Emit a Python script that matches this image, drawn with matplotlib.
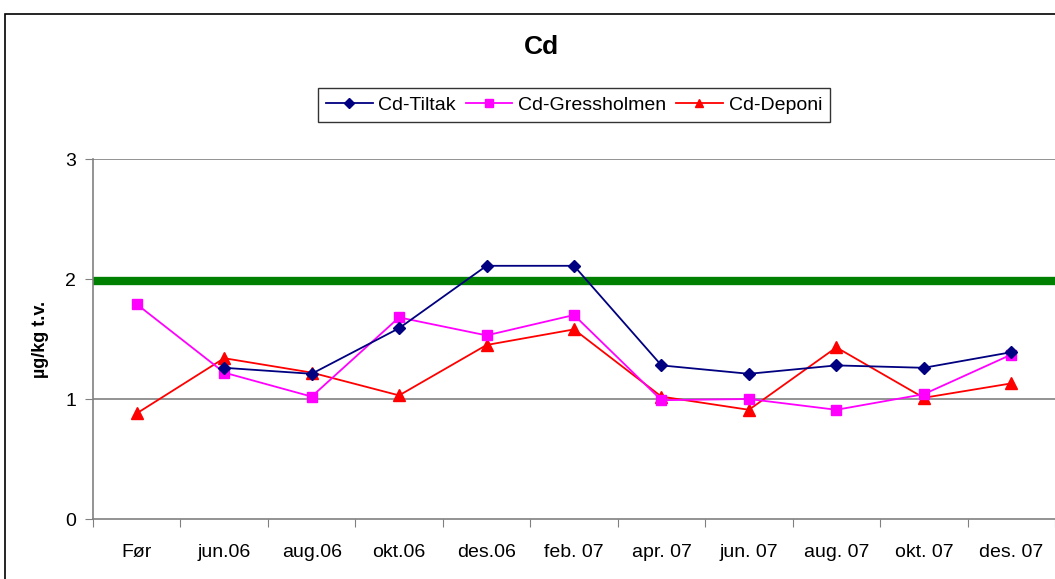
import matplotlib.pyplot as plt
from matplotlib.patches import Rectangle

plt.rcParams['font.family'] = ['Liberation Sans', 'DejaVu Sans']

kategorier = ['Før', 'jun.06', 'aug.06', 'okt.06', 'des.06', 'feb. 07',
              'apr. 07', 'jun. 07', 'aug. 07', 'okt. 07', 'des. 07']

# Cd-Tiltak mangler verdi for "Før"
tiltak = [None, 1.26, 1.21, 1.59, 2.11, 2.11, 1.28, 1.21, 1.28, 1.26, 1.39]
gressholmen = [1.79, 1.22, 1.02, 1.68, 1.53, 1.70, 0.99, 1.00, 0.91, 1.04, 1.37]
deponi = [0.88, 1.34, 1.22, 1.03, 1.45, 1.58, 1.02, 0.91, 1.43, 1.01, 1.13]
grense = 1.98

W, H = 1055, 579
fig = plt.figure(figsize=(W / 100, H / 100), dpi=100)
ax = fig.add_axes([93 / W, 1 - 519 / H, 962 / W, 360 / H])

# ramme rundt hele diagrammet
fig.patches.append(Rectangle((5 / W, -0.1), 2, 1.1 - 14 / H, transform=fig.transFigure,
                             fill=False, edgecolor='black', linewidth=1.2))

x = list(range(len(kategorier)))
xt = [i for i, v in zip(x, tiltak) if v is not None]
yt = [v for v in tiltak if v is not None]

for yv in [1, 2, 3]:
    ax.axhline(yv, color='#808080', linewidth=1.2, zorder=1)
ax.plot([-0.5, 10.45], [grense, grense], color='#008000', linewidth=6, zorder=2)

ax.plot(xt, yt, color='#000080', marker='D', markersize=6, linewidth=1.3,
        label='Cd-Tiltak', zorder=5)
ax.plot(x, gressholmen, color='#FF00FF', marker='s', markersize=7, linewidth=1.3,
        label='Cd-Gressholmen', zorder=4)
ax.plot(x, deponi, color='#FF0000', marker='^', markersize=8, linewidth=1.3,
        label='Cd-Deponi', zorder=3)

ax.set_xlim(-0.5, 10.5)
ax.set_ylim(0, 3)
ax.set_yticks([0, 1, 2, 3])
ax.tick_params(axis='y', direction='out', length=6, labelsize=14, pad=6, color='#808080')

ax.set_xticks([i - 0.5 for i in range(12)])
ax.set_xticklabels([])
ax.tick_params(axis='x', which='major', direction='out', length=6, color='#808080')
ax.set_xticks(x, minor=True)
ax.set_xticklabels(kategorier, minor=True, fontsize=14)
ax.tick_params(axis='x', which='minor', length=0, pad=18)

for s in ['top', 'right']:
    ax.spines[s].set_visible(False)
ax.spines['left'].set_color('#808080')
ax.spines['bottom'].set_color('#808080')
ax.spines['left'].set_linewidth(1.2)
ax.spines['bottom'].set_linewidth(1.2)

ax.set_ylabel('µg/kg t.v.', fontsize=13, fontweight='bold', labelpad=12)
fig.text(541 / W, 1 - 47 / H, 'Cd', fontsize=19, fontweight='bold', ha='center', va='center')

leg = fig.legend(loc='center', bbox_to_anchor=(574 / W, 1 - 105 / H), ncol=3,
                 fontsize=14, frameon=True, fancybox=False, handlelength=2.4,
                 handletextpad=0.3, columnspacing=0.5, borderpad=0.4, markerscale=0.8)
leg.get_frame().set_edgecolor('black')
leg.get_frame().set_linewidth(1.0)

fig.savefig('out.png', dpi=100)
